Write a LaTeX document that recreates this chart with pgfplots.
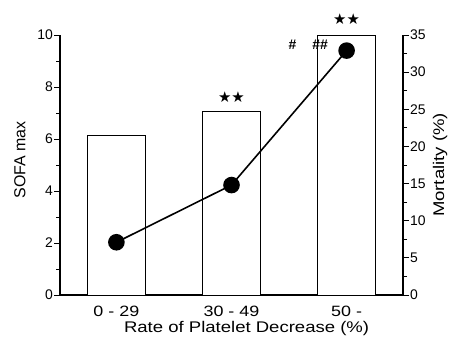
\documentclass[border=0pt]{standalone}
\usepackage{pgfplots}
\pgfplotsset{compat=1.18}
\usepackage{fontspec}
\setmainfont{Liberation Sans}
\newfontfamily\widefont{Liberation Sans}[FakeStretch=1.2]
\newfontfamily\djv{DejaVu Sans}
\begin{document}
\begin{tikzpicture}[x=1bp,y=1bp]
\useasboundingbox (0,0) rectangle (449,339);
\begin{axis}[
  at={(60bp,44bp)}, anchor=south west,
  scale only axis, width=343bp, height=260bp,
  xmin=-0.49, xmax=2.49, ymin=0, ymax=10,
  axis x line*=bottom, axis y line*=left,
  axis line style={line width=1.1pt, -},
  xtick={0,1,2}, xticklabels={0 - 29, 30 - 49, 50 -},
  x tick style={draw=none},
  ytick={0,2,...,10}, minor ytick={1,3,5,7,9},
  tick align=outside,
  major tick length=6bp, minor tick length=4bp,
  y tick style={line width=0.9pt, black},
  /pgf/number format/assume math mode=true,
  ticklabel style={font=\fontsize{14}{14}\selectfont},
  xticklabel style={font=\fontsize{15}{15}\widefont, yshift=-2bp},
  yticklabel style={inner sep=1bp},
  xlabel={Rate of Platelet Decrease (\%)},
  xlabel style={font=\fontsize{15.5}{16}\widefont, at={(axis description cs:0.544,-0.13)}, anchor=center},
  ylabel={SOFA max},
  ylabel style={font=\fontsize{16}{16}\selectfont, at={(axis description cs:-0.117,0.52)}, anchor=center},
  clip=false,
]
\addplot[ybar, bar width=0.5, draw=black, fill=white, line width=1pt] coordinates {(0,6.12) (1,7.05) (2,10.0)};
\node[font=\fontsize{15}{15}\djv\bfseries] at (axis cs:1,7.62) {★★};
\node[font=\fontsize{15}{15}\djv\bfseries] at (axis cs:2,10.62) {★★};
\node[font=\fontsize{14}{14}\selectfont\bfseries] at (axis cs:1.53,9.62) {\#};
\node[font=\fontsize{14}{14}\selectfont\bfseries] at (axis cs:1.77,9.62) {\#\#};
\end{axis}
\begin{axis}[
  at={(60bp,44bp)}, anchor=south west,
  scale only axis, width=343bp, height=260bp,
  xmin=-0.49, xmax=2.49, ymin=0, ymax=35,
  axis x line=none, axis y line*=right,
  axis line style={line width=1.1pt, -},
  ytick={0,5,...,35}, minor ytick={2.5,7.5,...,32.5},
  tick align=outside,
  major tick length=6bp, minor tick length=4bp,
  y tick style={line width=0.9pt, black},
  /pgf/number format/assume math mode=true,
  ticklabel style={font=\fontsize{14}{14}\selectfont},
  yticklabel style={inner sep=1bp},
  ylabel={Mortality (\%)},
  ylabel style={font=\fontsize{15.5}{16}\widefont, at={(axis description cs:1.108,0.5)}, anchor=center, rotate=0},
  clip=false,
]
\addplot[black, line width=1.6pt, mark=*, mark size=7.5bp, mark options={fill=black}] coordinates {(0,7.1) (1,14.8) (2,32.9)};
\end{axis}
\end{tikzpicture}
\end{document}
